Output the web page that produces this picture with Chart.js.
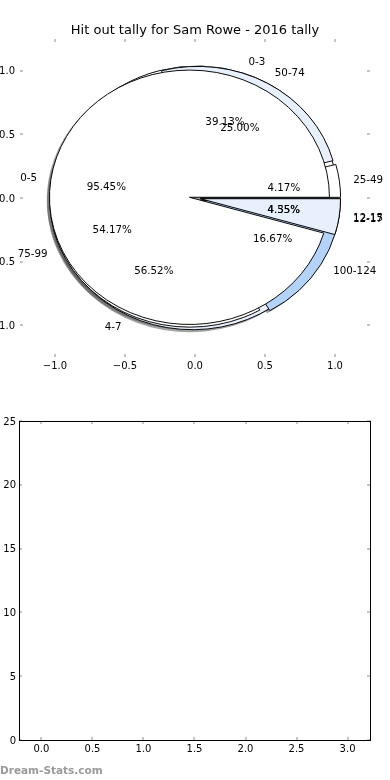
<!DOCTYPE html>
<html>
<head>
<meta charset="utf-8">
<title>Hit out tally for Sam Rowe - 2016 tally</title>
<script src="https://cdn.jsdelivr.net/npm/chart.js@4.4.1/dist/chart.umd.min.js"></script>
<style>
  body { margin: 0; background: #fff; }
  #pagina { position: relative; width: 390px; height: 780px; overflow: hidden; }
  canvas { display: block; }
  #marca { position: absolute; left: 0; top: 763px; font: bold 10.5px/14px "DejaVu Sans", sans-serif; color: #9a9a9a; }
</style>
</head>
<body>
<div id="pagina">
  <canvas id="graficoPie" width="390" height="390"></canvas>
  <canvas id="graficoVacio" width="390" height="390"></canvas>
  <div id="marca">Dream-Stats.com</div>
</div>
<script>
//DATOS
const labelsFour = ["0-3", "4-7", "12-15"];
const countsFour = [9, 13, 1];
const labelsSix = ["0-5", "12-17"];
const countsSix = [21, 1];
const labelsQuarter = ["25-49", "50-74", "75-99", "100-124"];
const countsQuarter = [1, 6, 13, 4];
const pieTicks = [-1.0, -0.5, 0.0, 0.5, 1.0];
const barTicksX = [0.0, 0.5, 1.0, 1.5, 2.0, 2.5, 3.0];
const barTicksY = [0, 5, 10, 15, 20, 25];
const barValues = [];

const FUENTE = '"DejaVu Sans", sans-serif';
const sliceColors = ["#ffffff", "#e8f0fd", "#ffffff", "#b4d3fb"];
const TICK_GRIS = "#c4c4c4";
const RADIO = 1;
const EXPLODE = 0.04;
const SOMBRA = [-0.02, -0.02];

function sombra(hex) {
  let r = parseInt(hex.slice(1, 3), 16) * 0.3;
  let g = parseInt(hex.slice(3, 5), 16) * 0.3;
  let b = parseInt(hex.slice(5, 7), 16) * 0.3;
  return `rgba(${r.toFixed(0)}, ${g.toFixed(0)}, ${b.toFixed(0)}, 0.5)`;
}

function pieSet(values, labels, esSombra) {
  return {
    data: values,
    pieLabels: esSombra ? null : labels,
    sombra: esSombra,
    backgroundColor: values.map((v, i) => {
      let c = sliceColors[i % sliceColors.length];
      return esSombra ? sombra(c) : c;
    }),
    borderColor: "#000",
    borderWidth: esSombra ? 0 : 1,
    clip: false,
  };
}

function fmtTick(v) {
  return v.toFixed(1).replace("-", "\u2212");
}

function ejes(min, max, ticks, pos, size, extra) {
  let esX = pos == "top" || pos == "bottom";
  return Object.assign({
    type: "linear",
    position: pos,
    min: min,
    max: max,
    afterBuildTicks: (s) => { s.ticks = ticks.map((v) => ({ value: v })); },
    afterFit: (s) => { if (esX) s.height = size; else s.width = size; },
    grid: { display: true, drawOnChartArea: false, drawTicks: true, tickLength: -3, color: TICK_GRIS, lineWidth: 2 },
    border: { display: false },
    ticks: { display: false },
  }, extra);
}

function ticksVisibles(padding, callback, offset) {
  return {
    display: true,
    padding: padding,
    labelOffset: offset || 0,
    color: "#000",
    autoSkip: false,
    maxRotation: 0,
    font: { family: FUENTE, size: 10 },
    callback: callback,
  };
}

//PLUGIN: PIES ELIPTICOS SOBRE LOS EJES
const pieEjes = {
  id: "pieEjes",
  afterDatasetsUpdate(chart) {
    let xs = chart.scales.x;
    let px = xs.getPixelForValue(1) - xs.getPixelForValue(0);
    chart.data.datasets.forEach((ds, i) => {
      let off = ds.sombra ? SOMBRA : [0, 0];
      chart.getDatasetMeta(i).data.forEach((arc) => {
        let mid = (arc.startAngle + arc.endAngle) / 2;
        arc.x = (EXPLODE * Math.cos(mid) + off[0]) * px;
        arc.y = (EXPLODE * Math.sin(mid) + off[1]) * px;
        arc.innerRadius = 0;
        arc.outerRadius = RADIO * px;
      });
    });
  },
  beforeDatasetDraw(chart) {
    let xs = chart.scales.x;
    let ys = chart.scales.y;
    let px = xs.getPixelForValue(1) - xs.getPixelForValue(0);
    let py = ys.getPixelForValue(0) - ys.getPixelForValue(1);
    chart.ctx.save();
    chart.ctx.translate(xs.getPixelForValue(0), ys.getPixelForValue(0));
    chart.ctx.scale(1, -py / px);
  },
  afterDatasetDraw(chart) {
    chart.ctx.restore();
  },
  afterDatasetsDraw(chart) {
    let ctx = chart.ctx;
    let xs = chart.scales.x;
    let ys = chart.scales.y;
    ctx.save();
    ctx.fillStyle = "#000";
    ctx.font = "10.3px " + FUENTE;
    ctx.textBaseline = "middle";
    // textos en el mismo orden que los pies (el de arriba al final)
    for (let i = chart.data.datasets.length - 1; i >= 0; i--) {
      let ds = chart.data.datasets[i];
      if (!ds.pieLabels) continue;
      let total = ds.data.reduce((a, b) => a + b, 0);
      chart.getDatasetMeta(i).data.forEach((arc, k) => {
        let mid = (arc.startAngle + arc.endAngle) / 2;
        let cx = EXPLODE * Math.cos(mid);
        let cy = EXPLODE * Math.sin(mid);
        ctx.textAlign = "center";
        ctx.fillText(((ds.data[k] / total) * 100).toFixed(2) + "%",
          xs.getPixelForValue(cx + 0.6 * RADIO * Math.cos(mid)),
          ys.getPixelForValue(cy + 0.6 * RADIO * Math.sin(mid)) + 0.8);
        let lx = cx + 1.1 * RADIO * Math.cos(mid);
        ctx.textAlign = lx > 0 ? "left" : "right";
        ctx.fillText(ds.pieLabels[k], xs.getPixelForValue(lx),
          ys.getPixelForValue(cy + 1.1 * RADIO * Math.sin(mid)) + 0.8);
      });
    }
    ctx.restore();
  },
};

//PIE SUPERIOR
new Chart(document.getElementById("graficoPie"), {
  type: "pie",
  data: {
    datasets: [
      pieSet(countsSix, labelsSix, false),
      pieSet(countsQuarter, labelsQuarter, false),
      pieSet(countsFour, labelsFour, false),
      pieSet(countsSix, labelsSix, true),
      pieSet(countsQuarter, labelsQuarter, true),
      pieSet(countsFour, labelsFour, true),
    ],
  },
  options: {
    responsive: false,
    animation: false,
    events: [],
    rotation: 90,
    layout: { padding: 0 },
    plugins: {
      legend: { display: false },
      tooltip: { enabled: false },
      title: {
        display: true,
        text: "Hit out tally for Sam Rowe - 2016 tally",
        color: "#000",
        font: { family: FUENTE, size: 13, weight: "normal" },
        padding: { top: 23, bottom: 0 },
      },
    },
    scales: {
      x: ejes(-1.25, 1.25, pieTicks, "bottom", 33, { ticks: ticksVisibles(6, fmtTick) }),
      x2: ejes(-1.25, 1.25, pieTicks, "top", 0.4),
      y: ejes(-1.25, 1.25, pieTicks, "left", 20, { ticks: ticksVisibles(8, fmtTick, 1) }),
      y2: ejes(-1.25, 1.25, pieTicks, "right", 20),
    },
  },
  plugins: [pieEjes],
});

//GRAFICO INFERIOR (VACIO)
const marco = { display: true, color: "#000", width: 1 };
new Chart(document.getElementById("graficoVacio"), {
  type: "scatter",
  data: { datasets: [{ data: barValues, pointRadius: 0 }] },
  options: {
    responsive: false,
    animation: false,
    events: [],
    layout: { padding: 0 },
    plugins: { legend: { display: false }, tooltip: { enabled: false } },
    scales: {
      x: ejes(-0.22, 3.22, barTicksX, "bottom", 40, { border: marco, ticks: ticksVisibles(6, fmtTick) }),
      x2: ejes(-0.22, 3.22, barTicksX, "top", 31, { border: marco }),
      y: ejes(0, 25, barTicksY, "left", 19, { border: marco, ticks: ticksVisibles(6, (v) => String(v), 1) }),
      y2: ejes(0, 25, barTicksY, "right", 20, { border: marco }),
    },
  },
});
</script>
</body>
</html>
